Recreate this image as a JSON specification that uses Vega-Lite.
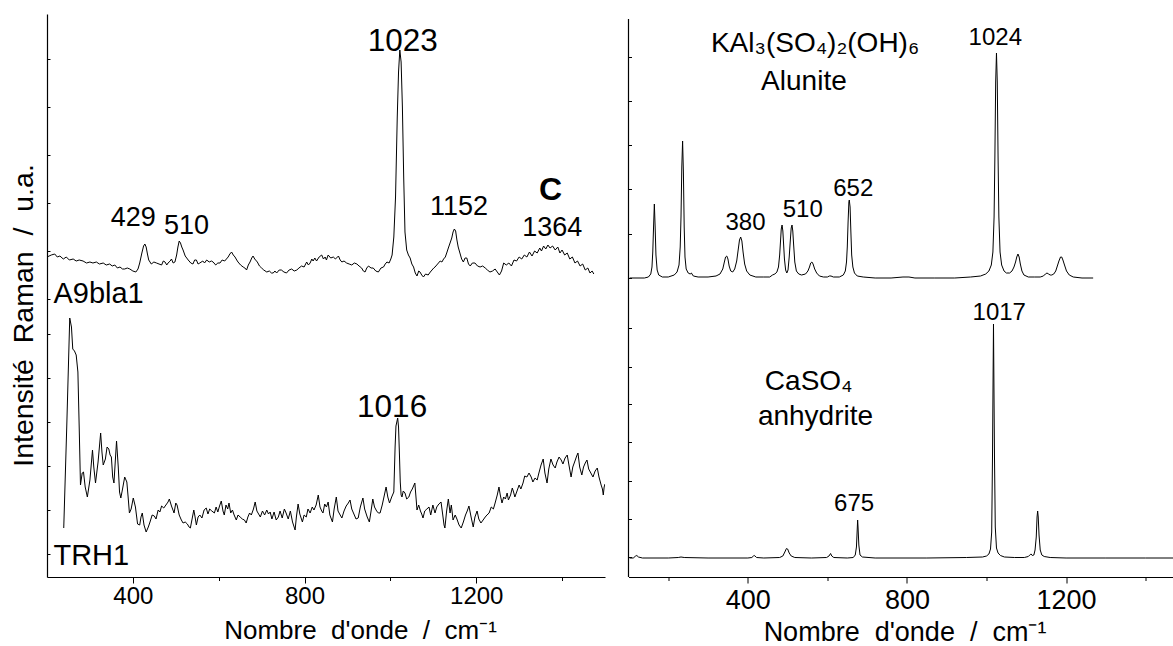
{
  "$schema": "https://vega.github.io/schema/vega-lite/v6.json",
  "background": "white",
  "padding": {"left": 9, "top": 14, "right": 0, "bottom": 0},
  "bounds": "flush",
  "spacing": 23.5,
  "config": {
    "font": "Liberation Sans",
    "view": {"stroke": null},
    "axis": {"grid": false, "domainColor": "black", "tickColor": "black", "labelColor": "black", "titleColor": "black", "labelFont": "Liberation Sans", "titleFont": "Liberation Sans", "titleFontWeight": "normal", "domainWidth": 1.2, "tickWidth": 1}
  },
  "datasets": {
    "left": [
      {"s":"A9bla1","x":200,"y":320},{"s":"A9bla1","x":210,"y":322},{"s":"A9bla1","x":218,"y":323},{"s":"A9bla1","x":224,"y":320},{"s":"A9bla1","x":230,"y":321},{"s":"A9bla1","x":238,"y":318},{"s":"A9bla1","x":245,"y":320},{"s":"A9bla1","x":252,"y":317},{"s":"A9bla1","x":261,"y":318},{"s":"A9bla1","x":268,"y":316},{"s":"A9bla1","x":275,"y":317},{"s":"A9bla1","x":284,"y":316},{"s":"A9bla1","x":292,"y":314},{"s":"A9bla1","x":300,"y":315},{"s":"A9bla1","x":307,"y":314},{"s":"A9bla1","x":315,"y":315},{"s":"A9bla1","x":322,"y":313},{"s":"A9bla1","x":331,"y":314},{"s":"A9bla1","x":338,"y":312},{"s":"A9bla1","x":346,"y":313},{"s":"A9bla1","x":352,"y":311},{"s":"A9bla1","x":358,"y":312},{"s":"A9bla1","x":364,"y":309},{"s":"A9bla1","x":370,"y":310},{"s":"A9bla1","x":376,"y":308},{"s":"A9bla1","x":381,"y":308},{"s":"A9bla1","x":387,"y":309},{"s":"A9bla1","x":393,"y":308},{"s":"A9bla1","x":400,"y":306},{"s":"A9bla1","x":407,"y":305},{"s":"A9bla1","x":412,"y":308},{"s":"A9bla1","x":416,"y":314},{"s":"A9bla1","x":421,"y":324},{"s":"A9bla1","x":425,"y":331},{"s":"A9bla1","x":428,"y":333},{"s":"A9bla1","x":431,"y":330},{"s":"A9bla1","x":434,"y":323},{"s":"A9bla1","x":437,"y":317},{"s":"A9bla1","x":443,"y":313},{"s":"A9bla1","x":449,"y":315},{"s":"A9bla1","x":455,"y":314},{"s":"A9bla1","x":461,"y":313},{"s":"A9bla1","x":467,"y":312},{"s":"A9bla1","x":471,"y":316},{"s":"A9bla1","x":475,"y":315},{"s":"A9bla1","x":479,"y":312},{"s":"A9bla1","x":482,"y":314},{"s":"A9bla1","x":487,"y":316},{"s":"A9bla1","x":490,"y":318},{"s":"A9bla1","x":494,"y":314},{"s":"A9bla1","x":498,"y":315},{"s":"A9bla1","x":502,"y":322},{"s":"A9bla1","x":505,"y":330},{"s":"A9bla1","x":508,"y":336},{"s":"A9bla1","x":511,"y":334},{"s":"A9bla1","x":514,"y":330},{"s":"A9bla1","x":517,"y":327},{"s":"A9bla1","x":522,"y":321},{"s":"A9bla1","x":529,"y":317},{"s":"A9bla1","x":535,"y":314},{"s":"A9bla1","x":540,"y":313},{"s":"A9bla1","x":544,"y":317},{"s":"A9bla1","x":548,"y":317},{"s":"A9bla1","x":552,"y":313},{"s":"A9bla1","x":556,"y":314},{"s":"A9bla1","x":563,"y":316},{"s":"A9bla1","x":567,"y":314},{"s":"A9bla1","x":572,"y":317},{"s":"A9bla1","x":578,"y":315},{"s":"A9bla1","x":583,"y":316},{"s":"A9bla1","x":587,"y":315},{"s":"A9bla1","x":593,"y":312},{"s":"A9bla1","x":598,"y":314},{"s":"A9bla1","x":603,"y":314},{"s":"A9bla1","x":608,"y":317},{"s":"A9bla1","x":614,"y":316},{"s":"A9bla1","x":618,"y":318},{"s":"A9bla1","x":622,"y":320},{"s":"A9bla1","x":626,"y":323},{"s":"A9bla1","x":630,"y":325},{"s":"A9bla1","x":634,"y":322},{"s":"A9bla1","x":638,"y":320},{"s":"A9bla1","x":642,"y":317},{"s":"A9bla1","x":645,"y":315},{"s":"A9bla1","x":651,"y":312},{"s":"A9bla1","x":657,"y":310},{"s":"A9bla1","x":661,"y":309},{"s":"A9bla1","x":665,"y":307},{"s":"A9bla1","x":669,"y":312},{"s":"A9bla1","x":673,"y":315},{"s":"A9bla1","x":677,"y":319},{"s":"A9bla1","x":680,"y":321},{"s":"A9bla1","x":684,"y":318},{"s":"A9bla1","x":690,"y":315},{"s":"A9bla1","x":695,"y":311},{"s":"A9bla1","x":700,"y":309},{"s":"A9bla1","x":705,"y":307},{"s":"A9bla1","x":712,"y":305},{"s":"A9bla1","x":718,"y":306},{"s":"A9bla1","x":723,"y":304},{"s":"A9bla1","x":727,"y":304},{"s":"A9bla1","x":731,"y":306},{"s":"A9bla1","x":735,"y":304},{"s":"A9bla1","x":741,"y":307},{"s":"A9bla1","x":746,"y":307},{"s":"A9bla1","x":752,"y":305},{"s":"A9bla1","x":758,"y":304},{"s":"A9bla1","x":764,"y":307},{"s":"A9bla1","x":770,"y":308},{"s":"A9bla1","x":776,"y":306},{"s":"A9bla1","x":782,"y":307},{"s":"A9bla1","x":787,"y":309},{"s":"A9bla1","x":793,"y":311},{"s":"A9bla1","x":799,"y":310},{"s":"A9bla1","x":805,"y":315},{"s":"A9bla1","x":809,"y":312},{"s":"A9bla1","x":813,"y":314},{"s":"A9bla1","x":817,"y":318},{"s":"A9bla1","x":820,"y":316},{"s":"A9bla1","x":824,"y":319},{"s":"A9bla1","x":828,"y":316},{"s":"A9bla1","x":834,"y":320},{"s":"A9bla1","x":840,"y":322},{"s":"A9bla1","x":844,"y":318},{"s":"A9bla1","x":848,"y":320},{"s":"A9bla1","x":851,"y":317},{"s":"A9bla1","x":855,"y":322},{"s":"A9bla1","x":861,"y":319},{"s":"A9bla1","x":867,"y":320},{"s":"A9bla1","x":872,"y":318},{"s":"A9bla1","x":879,"y":321},{"s":"A9bla1","x":883,"y":317},{"s":"A9bla1","x":887,"y":315},{"s":"A9bla1","x":892,"y":316},{"s":"A9bla1","x":898,"y":314},{"s":"A9bla1","x":904,"y":313},{"s":"A9bla1","x":910,"y":312},{"s":"A9bla1","x":916,"y":314},{"s":"A9bla1","x":922,"y":313},{"s":"A9bla1","x":927,"y":311},{"s":"A9bla1","x":933,"y":309},{"s":"A9bla1","x":937,"y":306},{"s":"A9bla1","x":941,"y":305},{"s":"A9bla1","x":945,"y":309},{"s":"A9bla1","x":949,"y":311},{"s":"A9bla1","x":955,"y":309},{"s":"A9bla1","x":960,"y":309},{"s":"A9bla1","x":966,"y":306},{"s":"A9bla1","x":972,"y":305},{"s":"A9bla1","x":978,"y":309},{"s":"A9bla1","x":984,"y":310},{"s":"A9bla1","x":988,"y":313},{"s":"A9bla1","x":992,"y":315},{"s":"A9bla1","x":997,"y":314},{"s":"A9bla1","x":1001,"y":318},{"s":"A9bla1","x":1004,"y":322},{"s":"A9bla1","x":1008,"y":340},{"s":"A9bla1","x":1012,"y":380},{"s":"A9bla1","x":1016,"y":460},{"s":"A9bla1","x":1019,"y":505},{"s":"A9bla1","x":1022,"y":527},{"s":"A9bla1","x":1025,"y":515},{"s":"A9bla1","x":1028,"y":470},{"s":"A9bla1","x":1031,"y":400},{"s":"A9bla1","x":1034,"y":345},{"s":"A9bla1","x":1038,"y":327},{"s":"A9bla1","x":1042,"y":322},{"s":"A9bla1","x":1046,"y":319},{"s":"A9bla1","x":1050,"y":313},{"s":"A9bla1","x":1054,"y":310},{"s":"A9bla1","x":1058,"y":304},{"s":"A9bla1","x":1062,"y":301},{"s":"A9bla1","x":1066,"y":306},{"s":"A9bla1","x":1069,"y":305},{"s":"A9bla1","x":1073,"y":302},{"s":"A9bla1","x":1077,"y":300},{"s":"A9bla1","x":1082,"y":303},{"s":"A9bla1","x":1088,"y":302},{"s":"A9bla1","x":1093,"y":305},{"s":"A9bla1","x":1097,"y":307},{"s":"A9bla1","x":1101,"y":309},{"s":"A9bla1","x":1104,"y":310},{"s":"A9bla1","x":1108,"y":312},{"s":"A9bla1","x":1112,"y":314},{"s":"A9bla1","x":1116,"y":316},{"s":"A9bla1","x":1120,"y":315},{"s":"A9bla1","x":1124,"y":318},{"s":"A9bla1","x":1128,"y":320},{"s":"A9bla1","x":1132,"y":325},{"s":"A9bla1","x":1135,"y":329},{"s":"A9bla1","x":1139,"y":334},{"s":"A9bla1","x":1143,"y":339},{"s":"A9bla1","x":1146,"y":345},{"s":"A9bla1","x":1149,"y":348},{"s":"A9bla1","x":1152,"y":346},{"s":"A9bla1","x":1155,"y":337},{"s":"A9bla1","x":1158,"y":330},{"s":"A9bla1","x":1162,"y":324},{"s":"A9bla1","x":1166,"y":318},{"s":"A9bla1","x":1170,"y":315},{"s":"A9bla1","x":1174,"y":319},{"s":"A9bla1","x":1178,"y":319},{"s":"A9bla1","x":1182,"y":313},{"s":"A9bla1","x":1186,"y":311},{"s":"A9bla1","x":1191,"y":314},{"s":"A9bla1","x":1197,"y":314},{"s":"A9bla1","x":1203,"y":311},{"s":"A9bla1","x":1209,"y":310},{"s":"A9bla1","x":1215,"y":311},{"s":"A9bla1","x":1221,"y":309},{"s":"A9bla1","x":1226,"y":307},{"s":"A9bla1","x":1232,"y":305},{"s":"A9bla1","x":1238,"y":306},{"s":"A9bla1","x":1244,"y":308},{"s":"A9bla1","x":1249,"y":305},{"s":"A9bla1","x":1254,"y":302},{"s":"A9bla1","x":1259,"y":306},{"s":"A9bla1","x":1264,"y":314},{"s":"A9bla1","x":1270,"y":312},{"s":"A9bla1","x":1276,"y":314},{"s":"A9bla1","x":1282,"y":311},{"s":"A9bla1","x":1288,"y":317},{"s":"A9bla1","x":1294,"y":316},{"s":"A9bla1","x":1300,"y":320},{"s":"A9bla1","x":1306,"y":318},{"s":"A9bla1","x":1312,"y":322},{"s":"A9bla1","x":1318,"y":320},{"s":"A9bla1","x":1324,"y":325},{"s":"A9bla1","x":1330,"y":321},{"s":"A9bla1","x":1336,"y":326},{"s":"A9bla1","x":1342,"y":324},{"s":"A9bla1","x":1348,"y":329},{"s":"A9bla1","x":1352,"y":326},{"s":"A9bla1","x":1357,"y":331},{"s":"A9bla1","x":1362,"y":328},{"s":"A9bla1","x":1367,"y":332},{"s":"A9bla1","x":1372,"y":329},{"s":"A9bla1","x":1378,"y":331},{"s":"A9bla1","x":1384,"y":327},{"s":"A9bla1","x":1390,"y":330},{"s":"A9bla1","x":1395,"y":324},{"s":"A9bla1","x":1400,"y":327},{"s":"A9bla1","x":1406,"y":322},{"s":"A9bla1","x":1412,"y":324},{"s":"A9bla1","x":1418,"y":318},{"s":"A9bla1","x":1424,"y":320},{"s":"A9bla1","x":1430,"y":314},{"s":"A9bla1","x":1436,"y":316},{"s":"A9bla1","x":1442,"y":311},{"s":"A9bla1","x":1448,"y":313},{"s":"A9bla1","x":1454,"y":307},{"s":"A9bla1","x":1460,"y":309},{"s":"A9bla1","x":1465,"y":304},{"s":"A9bla1","x":1470,"y":306},{"s":"A9bla1","x":1474,"y":303},
      {"s":"TRH1","x":239,"y":49},{"s":"TRH1","x":246,"y":150},{"s":"TRH1","x":253,"y":259},{"s":"TRH1","x":257,"y":250},{"s":"TRH1","x":260,"y":228},{"s":"TRH1","x":264,"y":226},{"s":"TRH1","x":268,"y":222},{"s":"TRH1","x":272,"y":205},{"s":"TRH1","x":275,"y":150},{"s":"TRH1","x":278,"y":92},{"s":"TRH1","x":282,"y":104},{"s":"TRH1","x":285,"y":105},{"s":"TRH1","x":289,"y":90},{"s":"TRH1","x":294,"y":80},{"s":"TRH1","x":300,"y":97},{"s":"TRH1","x":306,"y":127},{"s":"TRH1","x":309,"y":110},{"s":"TRH1","x":313,"y":94},{"s":"TRH1","x":319,"y":115},{"s":"TRH1","x":325,"y":144},{"s":"TRH1","x":328,"y":125},{"s":"TRH1","x":331,"y":112},{"s":"TRH1","x":336,"y":118},{"s":"TRH1","x":340,"y":130},{"s":"TRH1","x":344,"y":128},{"s":"TRH1","x":347,"y":122},{"s":"TRH1","x":350,"y":120},{"s":"TRH1","x":353,"y":100},{"s":"TRH1","x":356,"y":94},{"s":"TRH1","x":359,"y":115},{"s":"TRH1","x":362,"y":136},{"s":"TRH1","x":366,"y":110},{"s":"TRH1","x":369,"y":85},{"s":"TRH1","x":372,"y":79},{"s":"TRH1","x":376,"y":88},{"s":"TRH1","x":381,"y":100},{"s":"TRH1","x":386,"y":95},{"s":"TRH1","x":389,"y":80},{"s":"TRH1","x":392,"y":64},{"s":"TRH1","x":396,"y":68},{"s":"TRH1","x":401,"y":79},{"s":"TRH1","x":406,"y":70},{"s":"TRH1","x":411,"y":53},{"s":"TRH1","x":416,"y":52},{"s":"TRH1","x":419,"y":60},{"s":"TRH1","x":422,"y":64},{"s":"TRH1","x":426,"y":52},{"s":"TRH1","x":431,"y":45},{"s":"TRH1","x":436,"y":50},{"s":"TRH1","x":440,"y":55},{"s":"TRH1","x":445,"y":62},{"s":"TRH1","x":450,"y":61},{"s":"TRH1","x":454,"y":58},{"s":"TRH1","x":459,"y":67},{"s":"TRH1","x":463,"y":65},{"s":"TRH1","x":467,"y":71},{"s":"TRH1","x":472,"y":69},{"s":"TRH1","x":477,"y":72},{"s":"TRH1","x":482,"y":75},{"s":"TRH1","x":485,"y":78},{"s":"TRH1","x":490,"y":71},{"s":"TRH1","x":496,"y":64},{"s":"TRH1","x":500,"y":74},{"s":"TRH1","x":503,"y":72},{"s":"TRH1","x":508,"y":62},{"s":"TRH1","x":513,"y":57},{"s":"TRH1","x":517,"y":54},{"s":"TRH1","x":522,"y":55},{"s":"TRH1","x":527,"y":53},{"s":"TRH1","x":531,"y":50},{"s":"TRH1","x":534,"y":49},{"s":"TRH1","x":538,"y":58},{"s":"TRH1","x":542,"y":67},{"s":"TRH1","x":545,"y":60},{"s":"TRH1","x":548,"y":52},{"s":"TRH1","x":552,"y":60},{"s":"TRH1","x":556,"y":62},{"s":"TRH1","x":561,"y":59},{"s":"TRH1","x":566,"y":67},{"s":"TRH1","x":571,"y":69},{"s":"TRH1","x":575,"y":63},{"s":"TRH1","x":579,"y":68},{"s":"TRH1","x":584,"y":66},{"s":"TRH1","x":590,"y":64},{"s":"TRH1","x":594,"y":70},{"s":"TRH1","x":598,"y":65},{"s":"TRH1","x":602,"y":71},{"s":"TRH1","x":606,"y":76},{"s":"TRH1","x":610,"y":66},{"s":"TRH1","x":613,"y":62},{"s":"TRH1","x":617,"y":72},{"s":"TRH1","x":621,"y":68},{"s":"TRH1","x":624,"y":74},{"s":"TRH1","x":628,"y":64},{"s":"TRH1","x":632,"y":67},{"s":"TRH1","x":636,"y":62},{"s":"TRH1","x":641,"y":57},{"s":"TRH1","x":645,"y":62},{"s":"TRH1","x":650,"y":60},{"s":"TRH1","x":655,"y":58},{"s":"TRH1","x":660,"y":57},{"s":"TRH1","x":664,"y":54},{"s":"TRH1","x":668,"y":60},{"s":"TRH1","x":672,"y":64},{"s":"TRH1","x":676,"y":62},{"s":"TRH1","x":681,"y":68},{"s":"TRH1","x":685,"y":75},{"s":"TRH1","x":689,"y":66},{"s":"TRH1","x":693,"y":63},{"s":"TRH1","x":697,"y":60},{"s":"TRH1","x":702,"y":66},{"s":"TRH1","x":707,"y":62},{"s":"TRH1","x":712,"y":67},{"s":"TRH1","x":716,"y":63},{"s":"TRH1","x":720,"y":65},{"s":"TRH1","x":724,"y":58},{"s":"TRH1","x":729,"y":65},{"s":"TRH1","x":734,"y":57},{"s":"TRH1","x":739,"y":60},{"s":"TRH1","x":743,"y":66},{"s":"TRH1","x":748,"y":59},{"s":"TRH1","x":753,"y":68},{"s":"TRH1","x":757,"y":64},{"s":"TRH1","x":762,"y":58},{"s":"TRH1","x":767,"y":66},{"s":"TRH1","x":772,"y":55},{"s":"TRH1","x":778,"y":47},{"s":"TRH1","x":781,"y":60},{"s":"TRH1","x":785,"y":73},{"s":"TRH1","x":789,"y":63},{"s":"TRH1","x":795,"y":55},{"s":"TRH1","x":799,"y":62},{"s":"TRH1","x":804,"y":60},{"s":"TRH1","x":808,"y":68},{"s":"TRH1","x":813,"y":64},{"s":"TRH1","x":818,"y":70},{"s":"TRH1","x":822,"y":67},{"s":"TRH1","x":827,"y":72},{"s":"TRH1","x":832,"y":82},{"s":"TRH1","x":836,"y":70},{"s":"TRH1","x":840,"y":66},{"s":"TRH1","x":843,"y":64},{"s":"TRH1","x":847,"y":73},{"s":"TRH1","x":851,"y":70},{"s":"TRH1","x":855,"y":75},{"s":"TRH1","x":859,"y":62},{"s":"TRH1","x":865,"y":55},{"s":"TRH1","x":869,"y":68},{"s":"TRH1","x":874,"y":80},{"s":"TRH1","x":878,"y":66},{"s":"TRH1","x":883,"y":62},{"s":"TRH1","x":887,"y":59},{"s":"TRH1","x":892,"y":66},{"s":"TRH1","x":897,"y":71},{"s":"TRH1","x":902,"y":74},{"s":"TRH1","x":906,"y":77},{"s":"TRH1","x":910,"y":68},{"s":"TRH1","x":915,"y":63},{"s":"TRH1","x":920,"y":58},{"s":"TRH1","x":925,"y":59},{"s":"TRH1","x":930,"y":70},{"s":"TRH1","x":936,"y":79},{"s":"TRH1","x":940,"y":68},{"s":"TRH1","x":946,"y":60},{"s":"TRH1","x":951,"y":55},{"s":"TRH1","x":955,"y":66},{"s":"TRH1","x":959,"y":78},{"s":"TRH1","x":963,"y":70},{"s":"TRH1","x":968,"y":66},{"s":"TRH1","x":972,"y":64},{"s":"TRH1","x":976,"y":64},{"s":"TRH1","x":981,"y":72},{"s":"TRH1","x":986,"y":82},{"s":"TRH1","x":990,"y":90},{"s":"TRH1","x":994,"y":80},{"s":"TRH1","x":998,"y":74},{"s":"TRH1","x":1003,"y":80},{"s":"TRH1","x":1008,"y":85},{"s":"TRH1","x":1011,"y":130},{"s":"TRH1","x":1013,"y":151},{"s":"TRH1","x":1015,"y":155},{"s":"TRH1","x":1017,"y":159},{"s":"TRH1","x":1019,"y":150},{"s":"TRH1","x":1021,"y":124},{"s":"TRH1","x":1023,"y":95},{"s":"TRH1","x":1025,"y":82},{"s":"TRH1","x":1027,"y":80},{"s":"TRH1","x":1030,"y":86},{"s":"TRH1","x":1034,"y":84},{"s":"TRH1","x":1038,"y":78},{"s":"TRH1","x":1043,"y":80},{"s":"TRH1","x":1047,"y":85},{"s":"TRH1","x":1051,"y":88},{"s":"TRH1","x":1057,"y":94},{"s":"TRH1","x":1060,"y":78},{"s":"TRH1","x":1062,"y":67},{"s":"TRH1","x":1066,"y":72},{"s":"TRH1","x":1070,"y":66},{"s":"TRH1","x":1073,"y":63},{"s":"TRH1","x":1076,"y":59},{"s":"TRH1","x":1080,"y":66},{"s":"TRH1","x":1085,"y":68},{"s":"TRH1","x":1090,"y":70},{"s":"TRH1","x":1094,"y":62},{"s":"TRH1","x":1099,"y":72},{"s":"TRH1","x":1104,"y":64},{"s":"TRH1","x":1108,"y":70},{"s":"TRH1","x":1113,"y":73},{"s":"TRH1","x":1118,"y":75},{"s":"TRH1","x":1122,"y":62},{"s":"TRH1","x":1125,"y":52},{"s":"TRH1","x":1127,"y":49},{"s":"TRH1","x":1131,"y":66},{"s":"TRH1","x":1135,"y":78},{"s":"TRH1","x":1139,"y":64},{"s":"TRH1","x":1142,"y":72},{"s":"TRH1","x":1146,"y":57},{"s":"TRH1","x":1151,"y":62},{"s":"TRH1","x":1155,"y":58},{"s":"TRH1","x":1160,"y":52},{"s":"TRH1","x":1165,"y":49},{"s":"TRH1","x":1170,"y":55},{"s":"TRH1","x":1175,"y":62},{"s":"TRH1","x":1179,"y":66},{"s":"TRH1","x":1183,"y":71},{"s":"TRH1","x":1188,"y":60},{"s":"TRH1","x":1193,"y":50},{"s":"TRH1","x":1197,"y":60},{"s":"TRH1","x":1202,"y":66},{"s":"TRH1","x":1206,"y":58},{"s":"TRH1","x":1211,"y":54},{"s":"TRH1","x":1216,"y":57},{"s":"TRH1","x":1221,"y":60},{"s":"TRH1","x":1225,"y":62},{"s":"TRH1","x":1230,"y":64},{"s":"TRH1","x":1235,"y":70},{"s":"TRH1","x":1240,"y":68},{"s":"TRH1","x":1244,"y":74},{"s":"TRH1","x":1249,"y":82},{"s":"TRH1","x":1253,"y":90},{"s":"TRH1","x":1256,"y":82},{"s":"TRH1","x":1260,"y":74},{"s":"TRH1","x":1264,"y":80},{"s":"TRH1","x":1268,"y":78},{"s":"TRH1","x":1272,"y":84},{"s":"TRH1","x":1275,"y":77},{"s":"TRH1","x":1280,"y":82},{"s":"TRH1","x":1284,"y":89},{"s":"TRH1","x":1287,"y":85},{"s":"TRH1","x":1290,"y":80},{"s":"TRH1","x":1295,"y":86},{"s":"TRH1","x":1300,"y":92},{"s":"TRH1","x":1304,"y":88},{"s":"TRH1","x":1309,"y":94},{"s":"TRH1","x":1313,"y":101},{"s":"TRH1","x":1318,"y":100},{"s":"TRH1","x":1323,"y":104},{"s":"TRH1","x":1328,"y":100},{"s":"TRH1","x":1332,"y":95},{"s":"TRH1","x":1337,"y":99},{"s":"TRH1","x":1342,"y":97},{"s":"TRH1","x":1346,"y":104},{"s":"TRH1","x":1351,"y":112},{"s":"TRH1","x":1356,"y":118},{"s":"TRH1","x":1360,"y":104},{"s":"TRH1","x":1365,"y":94},{"s":"TRH1","x":1369,"y":108},{"s":"TRH1","x":1374,"y":118},{"s":"TRH1","x":1379,"y":112},{"s":"TRH1","x":1384,"y":109},{"s":"TRH1","x":1388,"y":115},{"s":"TRH1","x":1393,"y":120},{"s":"TRH1","x":1398,"y":117},{"s":"TRH1","x":1402,"y":113},{"s":"TRH1","x":1407,"y":119},{"s":"TRH1","x":1412,"y":122},{"s":"TRH1","x":1416,"y":112},{"s":"TRH1","x":1421,"y":100},{"s":"TRH1","x":1425,"y":110},{"s":"TRH1","x":1430,"y":116},{"s":"TRH1","x":1434,"y":121},{"s":"TRH1","x":1437,"y":124},{"s":"TRH1","x":1441,"y":110},{"s":"TRH1","x":1446,"y":102},{"s":"TRH1","x":1450,"y":110},{"s":"TRH1","x":1454,"y":114},{"s":"TRH1","x":1458,"y":117},{"s":"TRH1","x":1462,"y":108},{"s":"TRH1","x":1467,"y":104},{"s":"TRH1","x":1472,"y":100},{"s":"TRH1","x":1477,"y":106},{"s":"TRH1","x":1482,"y":109},{"s":"TRH1","x":1486,"y":100},{"s":"TRH1","x":1491,"y":92},{"s":"TRH1","x":1494,"y":88},{"s":"TRH1","x":1496,"y":82},{"s":"TRH1","x":1498,"y":90},{"s":"TRH1","x":1500,"y":93}
    ],
    "right": [
      {"s":"Alunite","x":103,"y":299},{"s":"Alunite","x":140,"y":299},{"s":"Alunite","x":150,"y":300},{"s":"Alunite","x":156,"y":303},{"s":"Alunite","x":159,"y":310},{"s":"Alunite","x":161,"y":325},{"s":"Alunite","x":163,"y":350},{"s":"Alunite","x":165,"y":373},{"s":"Alunite","x":167,"y":350},{"s":"Alunite","x":169,"y":322},{"s":"Alunite","x":172,"y":307},{"s":"Alunite","x":176,"y":302},{"s":"Alunite","x":185,"y":300},{"s":"Alunite","x":200,"y":300},{"s":"Alunite","x":215,"y":302},{"s":"Alunite","x":222,"y":305},{"s":"Alunite","x":227,"y":312},{"s":"Alunite","x":230,"y":330},{"s":"Alunite","x":232,"y":360},{"s":"Alunite","x":234,"y":410},{"s":"Alunite","x":236,"y":436},{"s":"Alunite","x":238,"y":405},{"s":"Alunite","x":240,"y":350},{"s":"Alunite","x":242,"y":320},{"s":"Alunite","x":245,"y":308},{"s":"Alunite","x":250,"y":304},{"s":"Alunite","x":255,"y":303},{"s":"Alunite","x":258,"y":304},{"s":"Alunite","x":263,"y":301},{"s":"Alunite","x":275,"y":300},{"s":"Alunite","x":300,"y":300},{"s":"Alunite","x":320,"y":301},{"s":"Alunite","x":330,"y":303},{"s":"Alunite","x":337,"y":308},{"s":"Alunite","x":341,"y":315},{"s":"Alunite","x":344,"y":320},{"s":"Alunite","x":347,"y":321},{"s":"Alunite","x":350,"y":318},{"s":"Alunite","x":353,"y":311},{"s":"Alunite","x":357,"y":306},{"s":"Alunite","x":362,"y":305},{"s":"Alunite","x":367,"y":308},{"s":"Alunite","x":372,"y":316},{"s":"Alunite","x":376,"y":328},{"s":"Alunite","x":379,"y":337},{"s":"Alunite","x":382,"y":340},{"s":"Alunite","x":385,"y":336},{"s":"Alunite","x":388,"y":325},{"s":"Alunite","x":392,"y":313},{"s":"Alunite","x":397,"y":306},{"s":"Alunite","x":405,"y":302},{"s":"Alunite","x":420,"y":300},{"s":"Alunite","x":440,"y":300},{"s":"Alunite","x":455,"y":300},{"s":"Alunite","x":462,"y":302},{"s":"Alunite","x":468,"y":303},{"s":"Alunite","x":473,"y":305},{"s":"Alunite","x":477,"y":310},{"s":"Alunite","x":480,"y":322},{"s":"Alunite","x":482,"y":335},{"s":"Alunite","x":484,"y":348},{"s":"Alunite","x":486,"y":352},{"s":"Alunite","x":488,"y":346},{"s":"Alunite","x":490,"y":332},{"s":"Alunite","x":492,"y":318},{"s":"Alunite","x":495,"y":307},{"s":"Alunite","x":498,"y":304},{"s":"Alunite","x":501,"y":307},{"s":"Alunite","x":504,"y":320},{"s":"Alunite","x":507,"y":338},{"s":"Alunite","x":509,"y":349},{"s":"Alunite","x":511,"y":352},{"s":"Alunite","x":513,"y":346},{"s":"Alunite","x":515,"y":333},{"s":"Alunite","x":518,"y":315},{"s":"Alunite","x":522,"y":306},{"s":"Alunite","x":528,"y":303},{"s":"Alunite","x":535,"y":302},{"s":"Alunite","x":545,"y":303},{"s":"Alunite","x":551,"y":306},{"s":"Alunite","x":555,"y":310},{"s":"Alunite","x":558,"y":314},{"s":"Alunite","x":561,"y":315},{"s":"Alunite","x":564,"y":313},{"s":"Alunite","x":568,"y":308},{"s":"Alunite","x":573,"y":304},{"s":"Alunite","x":580,"y":301},{"s":"Alunite","x":590,"y":300},{"s":"Alunite","x":600,"y":300},{"s":"Alunite","x":605,"y":301},{"s":"Alunite","x":609,"y":301},{"s":"Alunite","x":615,"y":300},{"s":"Alunite","x":630,"y":300},{"s":"Alunite","x":640,"y":302},{"s":"Alunite","x":645,"y":306},{"s":"Alunite","x":648,"y":315},{"s":"Alunite","x":650,"y":330},{"s":"Alunite","x":652,"y":355},{"s":"Alunite","x":654,"y":375},{"s":"Alunite","x":655,"y":377},{"s":"Alunite","x":657,"y":370},{"s":"Alunite","x":659,"y":345},{"s":"Alunite","x":661,"y":322},{"s":"Alunite","x":664,"y":310},{"s":"Alunite","x":668,"y":304},{"s":"Alunite","x":675,"y":301},{"s":"Alunite","x":690,"y":300},{"s":"Alunite","x":720,"y":299},{"s":"Alunite","x":760,"y":299},{"s":"Alunite","x":790,"y":300},{"s":"Alunite","x":805,"y":300},{"s":"Alunite","x":820,"y":299},{"s":"Alunite","x":870,"y":299},{"s":"Alunite","x":920,"y":299},{"s":"Alunite","x":960,"y":300},{"s":"Alunite","x":985,"y":301},{"s":"Alunite","x":998,"y":303},{"s":"Alunite","x":1006,"y":306},{"s":"Alunite","x":1012,"y":312},{"s":"Alunite","x":1016,"y":325},{"s":"Alunite","x":1019,"y":360},{"s":"Alunite","x":1021,"y":420},{"s":"Alunite","x":1023,"y":495},{"s":"Alunite","x":1025,"y":524},{"s":"Alunite","x":1027,"y":495},{"s":"Alunite","x":1029,"y":420},{"s":"Alunite","x":1031,"y":360},{"s":"Alunite","x":1034,"y":325},{"s":"Alunite","x":1038,"y":312},{"s":"Alunite","x":1044,"y":306},{"s":"Alunite","x":1050,"y":304},{"s":"Alunite","x":1058,"y":304},{"s":"Alunite","x":1064,"y":306},{"s":"Alunite","x":1069,"y":310},{"s":"Alunite","x":1073,"y":315},{"s":"Alunite","x":1076,"y":320},{"s":"Alunite","x":1079,"y":323},{"s":"Alunite","x":1082,"y":320},{"s":"Alunite","x":1085,"y":313},{"s":"Alunite","x":1089,"y":306},{"s":"Alunite","x":1094,"y":302},{"s":"Alunite","x":1105,"y":300},{"s":"Alunite","x":1120,"y":300},{"s":"Alunite","x":1135,"y":300},{"s":"Alunite","x":1143,"y":301},{"s":"Alunite","x":1148,"y":303},{"s":"Alunite","x":1152,"y":304},{"s":"Alunite","x":1156,"y":303},{"s":"Alunite","x":1160,"y":302},{"s":"Alunite","x":1164,"y":302},{"s":"Alunite","x":1169,"y":303},{"s":"Alunite","x":1174,"y":306},{"s":"Alunite","x":1178,"y":311},{"s":"Alunite","x":1182,"y":316},{"s":"Alunite","x":1186,"y":320},{"s":"Alunite","x":1189,"y":320},{"s":"Alunite","x":1192,"y":317},{"s":"Alunite","x":1196,"y":312},{"s":"Alunite","x":1201,"y":306},{"s":"Alunite","x":1208,"y":302},{"s":"Alunite","x":1218,"y":300},{"s":"Alunite","x":1240,"y":299},{"s":"Alunite","x":1268,"y":299},
      {"s":"Anhydrite","x":103,"y":19},{"s":"Anhydrite","x":112,"y":19},{"s":"Anhydrite","x":118,"y":21},{"s":"Anhydrite","x":121,"y":21.5},{"s":"Anhydrite","x":125,"y":20},{"s":"Anhydrite","x":135,"y":19},{"s":"Anhydrite","x":200,"y":19},{"s":"Anhydrite","x":225,"y":19.5},{"s":"Anhydrite","x":232,"y":20},{"s":"Anhydrite","x":240,"y":19.5},{"s":"Anhydrite","x":300,"y":19},{"s":"Anhydrite","x":400,"y":19},{"s":"Anhydrite","x":410,"y":19.5},{"s":"Anhydrite","x":414,"y":21},{"s":"Anhydrite","x":416,"y":21.5},{"s":"Anhydrite","x":418,"y":21},{"s":"Anhydrite","x":422,"y":19.5},{"s":"Anhydrite","x":440,"y":19},{"s":"Anhydrite","x":480,"y":19.5},{"s":"Anhydrite","x":488,"y":21},{"s":"Anhydrite","x":493,"y":25},{"s":"Anhydrite","x":497,"y":28.5},{"s":"Anhydrite","x":500,"y":28},{"s":"Anhydrite","x":504,"y":24},{"s":"Anhydrite","x":509,"y":21},{"s":"Anhydrite","x":518,"y":19.5},{"s":"Anhydrite","x":560,"y":19},{"s":"Anhydrite","x":598,"y":19.5},{"s":"Anhydrite","x":604,"y":21},{"s":"Anhydrite","x":608,"y":23.5},{"s":"Anhydrite","x":611,"y":21},{"s":"Anhydrite","x":616,"y":19.5},{"s":"Anhydrite","x":650,"y":19},{"s":"Anhydrite","x":665,"y":19.5},{"s":"Anhydrite","x":670,"y":22},{"s":"Anhydrite","x":673,"y":30},{"s":"Anhydrite","x":675,"y":48},{"s":"Anhydrite","x":676,"y":57},{"s":"Anhydrite","x":677,"y":50},{"s":"Anhydrite","x":679,"y":32},{"s":"Anhydrite","x":682,"y":22},{"s":"Anhydrite","x":688,"y":20},{"s":"Anhydrite","x":720,"y":19},{"s":"Anhydrite","x":850,"y":19},{"s":"Anhydrite","x":950,"y":19.5},{"s":"Anhydrite","x":990,"y":20},{"s":"Anhydrite","x":1000,"y":21},{"s":"Anhydrite","x":1006,"y":23},{"s":"Anhydrite","x":1010,"y":28},{"s":"Anhydrite","x":1013,"y":45},{"s":"Anhydrite","x":1015,"y":120},{"s":"Anhydrite","x":1016.5,"y":200},{"s":"Anhydrite","x":1017.5,"y":253},{"s":"Anhydrite","x":1018.5,"y":200},{"s":"Anhydrite","x":1020,"y":120},{"s":"Anhydrite","x":1022,"y":50},{"s":"Anhydrite","x":1025,"y":29},{"s":"Anhydrite","x":1029,"y":24},{"s":"Anhydrite","x":1035,"y":21.5},{"s":"Anhydrite","x":1045,"y":20},{"s":"Anhydrite","x":1070,"y":19.5},{"s":"Anhydrite","x":1095,"y":19.5},{"s":"Anhydrite","x":1105,"y":20.5},{"s":"Anhydrite","x":1110,"y":22.5},{"s":"Anhydrite","x":1112,"y":23},{"s":"Anhydrite","x":1115,"y":21.5},{"s":"Anhydrite","x":1119,"y":22},{"s":"Anhydrite","x":1122,"y":27},{"s":"Anhydrite","x":1125,"y":40},{"s":"Anhydrite","x":1127,"y":60},{"s":"Anhydrite","x":1128.5,"y":66},{"s":"Anhydrite","x":1130,"y":60},{"s":"Anhydrite","x":1132,"y":42},{"s":"Anhydrite","x":1135,"y":27},{"s":"Anhydrite","x":1139,"y":22},{"s":"Anhydrite","x":1145,"y":20.5},{"s":"Anhydrite","x":1160,"y":19.5},{"s":"Anhydrite","x":1200,"y":19},{"s":"Anhydrite","x":1300,"y":19},{"s":"Anhydrite","x":1400,"y":19},{"s":"Anhydrite","x":1470,"y":19}
    ]
  },
  "hconcat": [
    {
      "width": 558,
      "height": 563,
      "layer": [
        {
          "data": {"name": "left"},
          "mark": {"type": "line", "color": "black", "strokeWidth": 1, "clip": true},
          "encoding": {
            "x": {"field": "x", "type": "quantitative", "scale": {"domain": [200, 1500], "nice": false, "zero": false},
              "axis": {"values": [400, 600, 800, 1000, 1200, 1400], "format": "d", "labelExpr": "datum.value % 400 == 0 ? datum.label : ''", "tickSize": {"condition": {"test": "datum.value % 400 == 0", "value": 6}, "value": 3.5}, "labelFontSize": 24, "labelPadding": 1, "labelFlush": false, "labelOverlap": false, "title": "Nombre \u00a0d'onde \u00a0/ \u00a0cm⁻¹", "titleFontSize": 26, "titleX": 313, "titleY": 61, "titleBaseline": "alphabetic"}},
            "y": {"field": "y", "type": "quantitative", "scale": {"domain": [0, 563], "nice": false, "zero": false},
              "axis": {"values": [542, 518, 494, 470, 446, 422, 398, 374, 350, 326, 302, 278, 265, 243, 221, 199, 177, 155, 133, 111, 89, 67, 45, 23], "labels": false, "tickSize": -3, "title": "Intensité\u00a0 Raman\u00a0 /\u00a0 u.a.", "titleFontSize": 28.5, "titleAngle": -90, "titleX": -24, "titleY": 301, "titleBaseline": "middle", "titleAlign": "center"}},
            "detail": {"field": "s"}
          }
        },
        {
          "data": {"values": [{"t": "1023", "x": 1029, "y": 535}, {"t": "1016", "x": 1004, "y": 169}]},
          "mark": {"type": "text", "color": "black", "fontSize": 31.5, "align": "center", "baseline": "middle"},
          "encoding": {"x": {"field": "x", "type": "quantitative"}, "y": {"field": "y", "type": "quantitative"}, "text": {"field": "t"}}
        },
        {
          "data": {"values": [{"t": "429", "x": 401, "y": 359}, {"t": "510", "x": 525, "y": 351}, {"t": "1152", "x": 1160, "y": 370}, {"t": "1364", "x": 1377, "y": 349}]},
          "mark": {"type": "text", "color": "black", "fontSize": 27, "align": "center", "baseline": "middle"},
          "encoding": {"x": {"field": "x", "type": "quantitative"}, "y": {"field": "y", "type": "quantitative"}, "text": {"field": "t"}}
        },
        {
          "data": {"values": [{"t": "A9bla1", "x": 215, "y": 283}, {"t": "TRH1", "x": 215, "y": 21}]},
          "mark": {"type": "text", "color": "black", "fontSize": 29, "align": "left", "baseline": "middle"},
          "encoding": {"x": {"field": "x", "type": "quantitative"}, "y": {"field": "y", "type": "quantitative"}, "text": {"field": "t"}}
        },
        {
          "data": {"values": [{"t": "C", "x": 1373, "y": 387}]},
          "mark": {"type": "text", "color": "black", "fontSize": 32, "fontWeight": "bold", "align": "center", "baseline": "middle"},
          "encoding": {"x": {"field": "x", "type": "quantitative"}, "y": {"field": "y", "type": "quantitative"}, "text": {"field": "t"}}
        }
      ]
    },
    {
      "width": 545,
      "height": 563,
      "layer": [
        {
          "data": {"name": "right"},
          "mark": {"type": "line", "color": "black", "strokeWidth": 1, "clip": true},
          "encoding": {
            "x": {"field": "x", "type": "quantitative", "scale": {"domain": [100, 1470], "nice": false, "zero": false},
              "axis": {"values": [200, 400, 600, 800, 1000, 1200, 1400], "format": "d", "labelExpr": "datum.value % 400 == 0 ? datum.label : ''", "tickSize": {"condition": {"test": "datum.value % 400 == 0", "value": 6}, "value": 3.5}, "labelFontSize": 27, "labelPadding": 4, "labelFlush": false, "labelOverlap": false, "title": "Nombre \u00a0d'onde \u00a0/ \u00a0cm⁻¹", "titleFontSize": 27, "titleX": 276, "titleY": 63, "titleBaseline": "alphabetic"}},
            "y": {"field": "y", "type": "quantitative", "scale": {"domain": [0, 563], "nice": false, "zero": false},
              "axis": {"values": [542, 520, 498, 476, 454, 432, 409, 388, 365, 343, 321, 299, 277, 249, 229, 210, 191, 173, 154, 135, 115, 96, 77, 58, 39, 20], "labels": false, "tickSize": -3, "domain": false, "title": null}},
            "detail": {"field": "s"}
          }
        },
        {
          "data": {"values": [{}]},
          "mark": {"type": "rule", "color": "black", "strokeWidth": 1.2},
          "encoding": {"x": {"datum": 100}, "y": {"datum": 0}, "y2": {"datum": 558}}
        },
        {
          "data": {"values": [{"t": "KAl₃(SO₄)₂(OH)₆", "x": 569, "y": 533}, {"t": "Alunite", "x": 541, "y": 495}, {"t": "CaSO₄", "x": 553, "y": 195}, {"t": "anhydrite", "x": 570, "y": 160}]},
          "mark": {"type": "text", "color": "black", "fontSize": 28, "align": "center", "baseline": "middle"},
          "encoding": {"x": {"field": "x", "type": "quantitative"}, "y": {"field": "y", "type": "quantitative"}, "text": {"field": "t"}}
        },
        {
          "data": {"values": [{"t": "1024", "x": 1022, "y": 539}, {"t": "380", "x": 394, "y": 354}, {"t": "510", "x": 538, "y": 367}, {"t": "652", "x": 665, "y": 388}, {"t": "1017", "x": 1032, "y": 264}, {"t": "675", "x": 667, "y": 73}]},
          "mark": {"type": "text", "color": "black", "fontSize": 24, "align": "center", "baseline": "middle"},
          "encoding": {"x": {"field": "x", "type": "quantitative"}, "y": {"field": "y", "type": "quantitative"}, "text": {"field": "t"}}
        }
      ]
    }
  ]
}
